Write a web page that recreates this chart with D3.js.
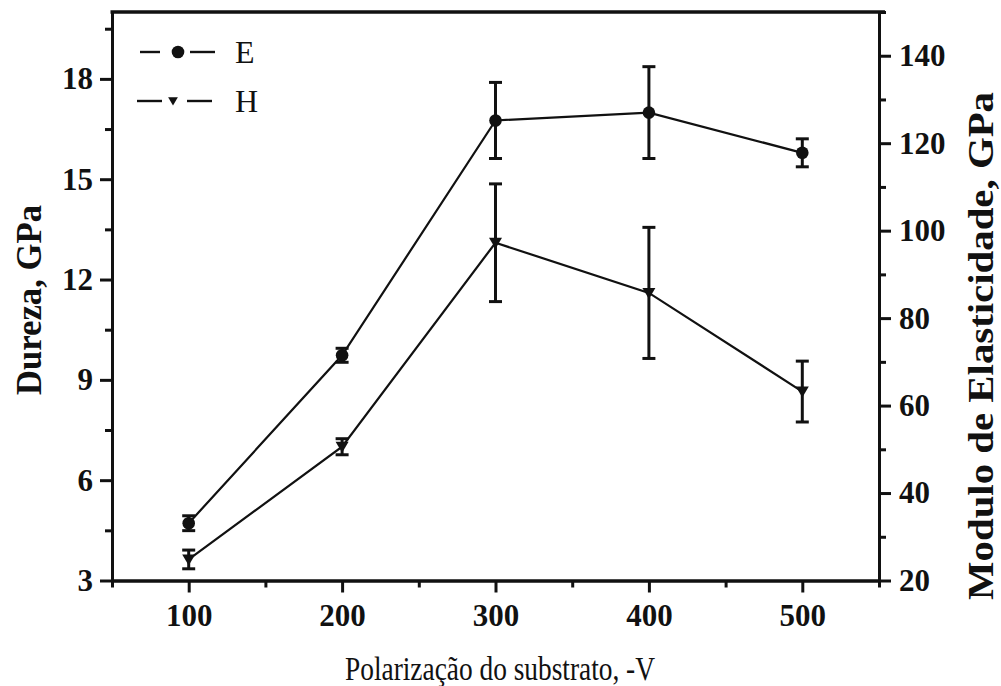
<!DOCTYPE html>
<html>
<head>
<meta charset="utf-8">
<script src="https://cdn.jsdelivr.net/npm/d3@7"></script>
<style>
  body { margin: 0; background: #fff; }
  text { font-family: "Liberation Serif", "Times New Roman", serif; fill: #111; }
</style>
</head>
<body>
<svg id="chart" width="1001" height="686"></svg>
<script>
// Substrate bias (-V)
const bias = [100, 200, 300, 400, 500];
// Elastic modulus E (GPa), right axis
const modulus = [33.1, 71.5, 125.2, 127.0, 117.8];
const modulusErr = [1.7, 1.6, 8.7, 10.5, 3.2];
// Hardness H (GPa), left axis
const hardness = [3.63, 7.0, 13.1, 11.6, 8.65];
const hardnessErr = [0.28, 0.24, 1.76, 1.96, 0.91];

const xTicks = [100, 200, 300, 400, 500];
const xMinor = [50, 150, 250, 350, 450, 550];
const hardTicks = [3, 6, 9, 12, 15, 18];
const hardMinor = [4.5, 7.5, 10.5, 13.5, 16.5, 19.5];
const modTicks = [20, 40, 60, 80, 100, 120, 140];
const modMinor = [30, 50, 70, 90, 110, 130, 150];

const legendItems = ["E", "H"];

const svg = d3.select("#chart");
const plotL = 112, plotR = 879, plotT = 12, plotB = 580.5;

const x = d3.scaleLinear().domain([50, 550]).range([plotL, plotR]);
const yH = d3.scaleLinear().domain([3, 20]).range([plotB, plotT]);
const yE = d3.scaleLinear().domain([20, 150]).range([plotB, plotT]);

const tickFont = sel => sel.selectAll("text")
  .style("font-family", '"Liberation Serif", "Times New Roman", serif')
  .style("font-weight", "bold")
  .style("font-size", "31px")
  .attr("fill", "#111");

const styleAxis = (g, width) => {
  g.selectAll("path.domain").attr("stroke", "#111").attr("stroke-width", width);
  g.selectAll("line").attr("stroke", "#111").attr("stroke-width", width);
};

// Bottom axis
const gx = svg.append("g").attr("transform", `translate(0,${plotB})`)
  .call(d3.axisBottom(x).tickValues(xTicks).tickSize(12).tickSizeOuter(0).tickPadding(11).tickFormat(d3.format("d")));
styleAxis(gx, 3); tickFont(gx);
const gxm = svg.append("g").attr("transform", `translate(0,${plotB})`)
  .call(d3.axisBottom(x).tickValues(xMinor).tickSize(7).tickSizeOuter(0).tickFormat(""));
styleAxis(gxm, 3);

// Left axis (hardness)
const gl = svg.append("g").attr("transform", `translate(${plotL},0)`)
  .call(d3.axisLeft(yH).tickValues(hardTicks).tickSize(12).tickSizeOuter(0).tickPadding(7).tickFormat(d3.format("d")));
styleAxis(gl, 3); tickFont(gl);
const glm = svg.append("g").attr("transform", `translate(${plotL},0)`)
  .call(d3.axisLeft(yH).tickValues(hardMinor).tickSize(7).tickSizeOuter(0).tickFormat(""));
styleAxis(glm, 3);

// Right axis (modulus)
const gr = svg.append("g").attr("transform", `translate(${plotR},0)`)
  .call(d3.axisRight(yE).tickValues(modTicks).tickSize(12).tickSizeOuter(0).tickPadding(8).tickFormat(d3.format("d")));
styleAxis(gr, 3); tickFont(gr);
const grm = svg.append("g").attr("transform", `translate(${plotR},0)`)
  .call(d3.axisRight(yE).tickValues(modMinor).tickSize(7).tickSizeOuter(0).tickFormat(""));
styleAxis(grm, 3);

// Top frame line
svg.append("line")
  .attr("x1", plotL - 1.5).attr("x2", plotR + 6)
  .attr("y1", plotT).attr("y2", plotT)
  .attr("stroke", "#111").attr("stroke-width", 3.6);

// Series
function drawSeries(values, errs, yScale, marker) {
  const pts = bias.map((b, i) => ({ x: x(b), y: yScale(values[i]), lo: yScale(values[i] - errs[i]), hi: yScale(values[i] + errs[i]) }));
  svg.append("path")
    .attr("d", d3.line().x(d => d.x).y(d => d.y)(pts))
    .attr("fill", "none").attr("stroke", "#111").attr("stroke-width", 2.2);
  const eb = svg.append("g").attr("stroke", "#111").attr("stroke-width", 3);
  pts.forEach(p => {
    eb.append("line").attr("x1", p.x).attr("x2", p.x).attr("y1", p.lo).attr("y2", p.hi);
    eb.append("line").attr("x1", p.x - 6.5).attr("x2", p.x + 6.5).attr("y1", p.lo).attr("y2", p.lo);
    eb.append("line").attr("x1", p.x - 6.5).attr("x2", p.x + 6.5).attr("y1", p.hi).attr("y2", p.hi);
  });
  pts.forEach(p => marker(svg, p.x, p.y, 1));
}

const circleMarker = (g, cx, cy, s) => g.append("circle").attr("cx", cx).attr("cy", cy).attr("r", 6.3 * s).attr("fill", "#111");
const triMarker = (g, cx, cy, s) => g.append("path")
  .attr("d", `M${cx - 6.5 * s},${cy - 5 * s}L${cx + 6.5 * s},${cy - 5 * s}L${cx},${cy + 6 * s}Z`)
  .attr("fill", "#111");

drawSeries(modulus, modulusErr, yE, circleMarker);
drawSeries(hardness, hardnessErr, yH, triMarker);

// Legend
const legendY = [52, 101];
const legendSeg = [[140, 160, 178, 190, 215], [137, 162, 173, 187, 212]];
const legendMarkers = [circleMarker, triMarker];
legendItems.forEach((name, i) => {
  const ly = legendY[i];
  const [a1, a2, m, b1, b2] = legendSeg[i];
  const g = svg.append("g");
  g.append("line").attr("x1", a1).attr("x2", a2).attr("y1", ly).attr("y2", ly).attr("stroke", "#111").attr("stroke-width", 2.4);
  g.append("line").attr("x1", b1).attr("x2", b2).attr("y1", ly).attr("y2", ly).attr("stroke", "#111").attr("stroke-width", 2.4);
  legendMarkers[i](g, m, ly, i === 0 ? 1 : 0.75);
  g.append("text").attr("x", 235).attr("y", ly + 11).style("font-size", "32px").text(name);
});

// Axis titles
svg.append("text")
  .attr("transform", "translate(41,300) rotate(-90)")
  .attr("text-anchor", "middle")
  .attr("textLength", 190).attr("lengthAdjust", "spacingAndGlyphs")
  .style("font-weight", "bold").style("font-size", "35px")
  .text("Dureza, GPa");

svg.append("text")
  .attr("transform", "translate(993,346) rotate(-90)")
  .attr("text-anchor", "middle")
  .attr("textLength", 508).attr("lengthAdjust", "spacingAndGlyphs")
  .style("font-weight", "bold").style("font-size", "35px")
  .text("Modulo de Elasticidade, GPa");

svg.append("text")
  .attr("x", 500).attr("y", 680)
  .attr("text-anchor", "middle")
  .attr("textLength", 310).attr("lengthAdjust", "spacingAndGlyphs")
  .style("font-size", "33px")
  .text("Polarização do substrato, -V");
</script>
</body>
</html>
